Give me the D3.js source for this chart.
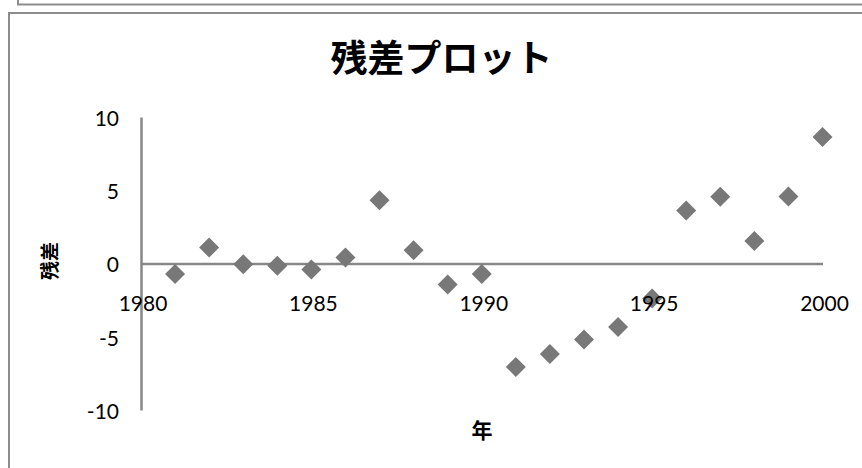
<!DOCTYPE html>
<html>
<head>
<meta charset="utf-8">
<script src="https://cdn.jsdelivr.net/npm/d3@7"></script>
<style>
  html, body { margin: 0; padding: 0; background: #fff; }
  svg { display: block; }
</style>
</head>
<body>
<svg id="chart" width="862" height="468"></svg>
<script>
// Residuals of the yearly regression fit
const years = [1981, 1982, 1983, 1984, 1985, 1986, 1987, 1988, 1989, 1990,
               1991, 1992, 1993, 1994, 1995, 1996, 1997, 1998, 1999, 2000];
const residuals = [-0.71, 1.09, -0.05, -0.16, -0.41, 0.41, 4.32, 0.91, -1.43, -0.71,
                   -7.06, -6.17, -5.19, -4.33, -2.39, 3.62, 4.55, 1.54, 4.57, 8.64];
const xTicks = [1980, 1985, 1990, 1995, 2000];
const yTicks = [-10, -5, 0, 5, 10];

const titleText = "残差プロット";
const xLabel = "年";
const yLabel = "残差";

const svg = d3.select("#chart");
const frameColor = "#8c8c8c";
const axisColor = "#878787";
const markColor = "#787878";
const tickFont = "Lato, 'Open Sans', sans-serif";
const cjkFont = "'Noto Sans CJK JP', 'Noto Sans CJK SC', sans-serif";
const plainNumber = d => String(d);   // ASCII hyphen for negatives

// Neighbouring box edge above, and the chart frame
svg.append("path")
  .attr("d", "M18,-5V4.5H870")
  .attr("fill", "none").attr("stroke", frameColor).attr("stroke-width", 2);
svg.append("rect")
  .attr("x", 9).attr("y", 13).attr("width", 900).attr("height", 500)
  .attr("fill", "#fff").attr("stroke", frameColor).attr("stroke-width", 2);

const x = d3.scaleLinear().domain([1980, 2000]).range([141, 822.5]);
const y = d3.scaleLinear().domain([-10, 10]).range([410, 117]);

// Layers: axis lines, then markers, then labels on top
const lineLayer = svg.append("g");
const markLayer = svg.append("g");
const labelLayer = svg.append("g");

// Title
labelLayer.append("text")
  .attr("x", 441.5).attr("y", 72)
  .attr("text-anchor", "middle")
  .attr("font-family", cjkFont).attr("font-weight", "bold")
  .attr("font-size", 37).attr("fill", "#000")
  .text(titleText);

// Y axis at x = 1980
const yAxis = lineLayer.append("g")
  .attr("transform", `translate(${x(1980)},0)`)
  .call(d3.axisLeft(y).tickValues(yTicks).tickSize(0).tickPadding(22).tickFormat(plainNumber));
yAxis.select(".domain").attr("stroke", axisColor).attr("stroke-width", 2.5);
yAxis.selectAll("text")
  .attr("font-family", tickFont).attr("font-size", 21).attr("fill", "#000")
  .attr("dy", "0.4em");

// X axis crossing at residual 0; its tick labels sit above the markers
const xAxis = lineLayer.append("g")
  .attr("transform", `translate(0,${y(0)})`)
  .call(d3.axisBottom(x).tickValues(xTicks).tickSize(0).tickFormat(plainNumber));
xAxis.select(".domain").attr("stroke", axisColor).attr("stroke-width", 2.5);
xAxis.selectAll("text")
  .attr("font-family", tickFont).attr("font-size", 21).attr("fill", "#000")
  .attr("text-anchor", "middle")
  .attr("y", 40).attr("dy", "0.35em").attr("dx", 1.5);
const xLabelsGroup = labelLayer.append("g")
  .attr("transform", `translate(0,${y(0)})`)
  .attr("text-anchor", "middle");
xAxis.selectAll(".tick").each(function () { xLabelsGroup.node().appendChild(this); });

// Axis titles
labelLayer.append("text")
  .attr("transform", "translate(48,261) rotate(-90)")
  .attr("text-anchor", "middle").attr("dominant-baseline", "central")
  .attr("font-family", cjkFont).attr("font-weight", "bold")
  .attr("font-size", 19).attr("fill", "#000")
  .text(yLabel);
labelLayer.append("text")
  .attr("x", 482).attr("y", 429)
  .attr("text-anchor", "middle").attr("dominant-baseline", "central")
  .attr("font-family", cjkFont).attr("font-weight", "bold")
  .attr("font-size", 21).attr("fill", "#000")
  .text(xLabel);

// Diamond markers
const diamond = d3.symbol().type(d3.symbolSquare).size(200);
markLayer.selectAll("path")
  .data(years.map((yr, i) => ({ yr, r: residuals[i] })))
  .join("path")
  .attr("d", diamond)
  .attr("transform", d => `translate(${x(d.yr)},${y(d.r)}) rotate(45)`)
  .attr("fill", markColor);
</script>
</body>
</html>
